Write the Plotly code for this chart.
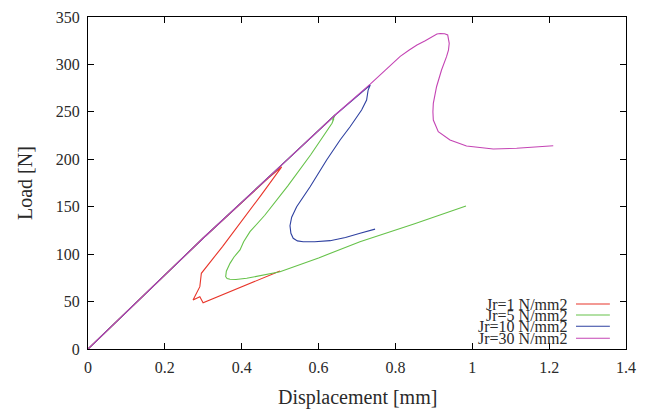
import plotly.graph_objects as go

names = ["Jr=1 N/mm2", "Jr=5 N/mm2", "Jr=10 N/mm2", "Jr=30 N/mm2"]
colors = ["#e8352a", "#66c24a", "#2e40a0", "#c444b4"]

x_jr1 = [0, 0.3, 0.47, 0.504, 0.45, 0.40, 0.35, 0.295, 0.291, 0.2734, 0.291, 0.2995, 0.4996]
y_jr1 = [0, 117, 180.5, 192, 162, 135, 108, 79.8, 65.7, 51.6, 55.1, 48.8, 82.2]

x_jr5 = [0, 0.3, 0.5, 0.643, 0.636, 0.640, 0.635, 0.58, 0.52, 0.46, 0.4215, 0.405, 0.3955, 0.38, 0.3695, 0.360, 0.3583, 0.362, 0.3695, 0.385, 0.413, 0.4996, 0.6, 0.7077, 0.85, 0.9836]
y_jr5 = [0, 117, 192.5, 246.7, 241, 243, 238, 205, 172, 141, 123.7, 113, 104.4, 97, 90.3, 82, 76.2, 74.2, 73.5, 73.3, 74.5, 81.5, 96, 113.1, 132, 150.7]

x_jr10 = [0, 0.3, 0.5, 0.643, 0.7344, 0.729, 0.725, 0.712, 0.682, 0.656, 0.621, 0.578, 0.543, 0.530, 0.5256, 0.528, 0.534, 0.545, 0.560, 0.59, 0.630, 0.67, 0.708, 0.747]
y_jr10 = [0, 117, 192.5, 246.7, 278.3, 273, 262.5, 252, 234.3, 220.3, 199.2, 171.1, 150, 139, 130, 122, 116.7, 114, 113.1, 113.1, 114.2, 117.5, 122, 126.4]

x_jr30 = [0, 0.3, 0.5, 0.643, 0.7344, 0.7604, 0.8125, 0.835, 0.856, 0.8776, 0.908, 0.9167, 0.928, 0.936, 0.940, 0.938, 0.933, 0.920, 0.907, 0.8986, 0.8975, 0.8986, 0.9115, 0.942, 0.985, 1.0546, 1.1154, 1.2107]
y_jr30 = [0, 117, 192.5, 246.7, 279.3, 288.8, 308.5, 315, 320.5, 325, 332.1, 332.6, 332.3, 331, 322.3, 315, 308.2, 294.1, 276.5, 259, 250, 241.4, 229.1, 220.3, 214, 210.8, 211.6, 214.3]

series_x = [x_jr1, x_jr5, x_jr10, x_jr30]
series_y = [y_jr1, y_jr5, y_jr10, y_jr30]

x_ticks = [0, 0.2, 0.4, 0.6, 0.8, 1, 1.2, 1.4]
x_tick_labels = ["0", "0.2", "0.4", "0.6", "0.8", "1", "1.2", "1.4"]
y_ticks = [0, 50, 100, 150, 200, 250, 300, 350]

x_title = "Displacement [mm]"
y_title = "Load [N]"

FONT = "Liberation Serif, DejaVu Serif, serif"
TXT = "#2a2a2a"

fig = go.Figure()
for xs, ys, nm, col in zip(series_x, series_y, names, colors):
    fig.add_trace(go.Scatter(x=xs, y=ys, mode="lines", name=nm,
                             line=dict(color=col, width=1.1), showlegend=False))

# gnuplot-style legend: right-aligned text with line sample on the right
leg_y = [0.1355, 0.1024, 0.0684, 0.0322]
for nm, col, ly in zip(names, colors, leg_y):
    fig.add_annotation(x=0.894, y=ly, xref="paper", yref="paper", text=nm,
                       showarrow=False, xanchor="right", yanchor="middle",
                       font=dict(family=FONT, size=16, color=TXT))
    fig.add_shape(type="line", xref="paper", yref="paper", x0=0.907, x1=0.970,
                  y0=ly, y1=ly, line=dict(color=col, width=1.1))

# axis titles
fig.add_annotation(x=0.5, y=-0.145, xref="paper", yref="paper", text=x_title,
                   showarrow=False, xanchor="center", yanchor="middle",
                   font=dict(family=FONT, size=20, color=TXT))
fig.add_annotation(x=-0.117, y=0.5, xref="paper", yref="paper", text=y_title,
                   showarrow=False, xanchor="center", yanchor="middle", textangle=-90,
                   font=dict(family=FONT, size=20, color=TXT))

axis_common = dict(showgrid=False, zeroline=False, showline=True, linecolor="black",
                   linewidth=1, mirror="ticks", ticks="inside", ticklen=6,
                   tickcolor="black", tickwidth=1, automargin=False,
                   tickfont=dict(family=FONT, size=16, color=TXT))

fig.update_xaxes(range=[0, 1.4], tickvals=x_ticks, ticktext=x_tick_labels,
                 ticklabelstandoff=4, **axis_common)
fig.update_yaxes(range=[0, 350], tickvals=y_ticks, ticklabelstandoff=4, **axis_common)

fig.update_layout(width=648, height=411, plot_bgcolor="white", paper_bgcolor="white",
                  margin=dict(l=88, r=22, t=17, b=62), showlegend=False)

fig.write_html("out.html")
